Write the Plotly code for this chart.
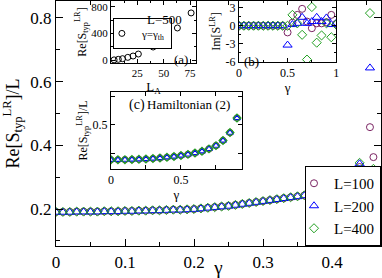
import plotly.graph_objects as go

FONT = "Liberation Serif, Times New Roman, serif"
C100 = "#7b2463"
C200 = "#0000ff"
C400 = "#22a022"

# ---------------- main panel data ----------------
gamma_main = [0.00, 0.01, 0.02, 0.03, 0.04, 0.05, 0.06, 0.07, 0.08, 0.09,
              0.10, 0.11, 0.12, 0.13, 0.14, 0.15, 0.16, 0.17, 0.18, 0.19,
              0.20, 0.21, 0.22, 0.23, 0.24, 0.25, 0.26, 0.27, 0.28, 0.29,
              0.30, 0.31, 0.32, 0.33, 0.34, 0.35, 0.36, 0.37, 0.38, 0.39,
              0.40, 0.41, 0.42, 0.43, 0.44, 0.455, 0.46]
re_L100 = [0.191, 0.191, 0.191, 0.192, 0.192, 0.192, 0.192, 0.193, 0.193, 0.193,
           0.194, 0.194, 0.195, 0.195, 0.196, 0.196, 0.197, 0.198, 0.198, 0.199,
           0.200, 0.202, 0.204, 0.206, 0.208, 0.210, 0.213, 0.216, 0.219, 0.222,
           0.225, 0.228, 0.231, 0.234, 0.237, 0.240, 0.243, 0.246, 0.250, 0.254,
           0.261, 0.272, 0.287, 0.306, 0.332, 0.457, 0.363]
re_L200 = [0.190, 0.190, 0.190, 0.191, 0.191, 0.191, 0.191, 0.192, 0.192, 0.192,
           0.193, 0.193, 0.194, 0.194, 0.195, 0.195, 0.196, 0.197, 0.197, 0.198,
           0.199, 0.201, 0.203, 0.205, 0.207, 0.209, 0.212, 0.215, 0.218, 0.221,
           0.224, 0.227, 0.230, 0.233, 0.236, 0.239, 0.242, 0.246, 0.250, 0.255,
           0.262, 0.274, 0.289, 0.310, 0.342, 0.643, 0.316]
re_L400 = [0.191, 0.191, 0.191, 0.192, 0.192, 0.192, 0.192, 0.193, 0.193, 0.193,
           0.194, 0.194, 0.195, 0.195, 0.196, 0.196, 0.197, 0.198, 0.198, 0.199,
           0.200, 0.202, 0.204, 0.206, 0.208, 0.210, 0.213, 0.216, 0.219, 0.222,
           0.225, 0.228, 0.231, 0.234, 0.237, 0.240, 0.243, 0.247, 0.251, 0.256,
           0.263, 0.275, 0.290, 0.311, 0.345, 0.815, 0.326]

# ---------------- inset (a) data ----------------
LA_a = [3, 7, 11, 16, 21, 26, 40, 50, 63, 76]
reS_a = [2, 10, 20, 40, 60, 90, 196, 330, 483, 710]

# ---------------- inset (b) data ----------------
gamma_b = [0.00, 0.05, 0.10, 0.15, 0.20, 0.25, 0.30, 0.35, 0.40, 0.45,
           0.50, 0.55, 0.60, 0.65, 0.70, 0.75, 0.80, 0.85, 0.90, 0.95, 1.00]
im_L100 = [0, 0, 0, 0, 0, 0, 0, 0, 0, 0,
           -1.1, 0.5, 1.8, 2.8, 0.7, -0.4, 0.4, 0.4, 0.6, 1.8, 0.3]
im_L200 = [0, 0, 0, 0, 0, 0, 0, 0, 0, 0,
           -3.2, 0.2, 0.4, 1.4, 0.4, 0.7, 1.4, 0.7, 1.3, 0.2, 0.4]
im_L400 = [0, 0, 0, 0, 0, 0, 0, 0, 0, 0,
           0.0, 1.8, 0.4, -1.5, -5.6, 3.1, -2.8, -1.6, 0.4, -1.9, 0.2]

# ---------------- inset (c) data ----------------
gamma_c = [0.00, 0.05, 0.10, 0.15, 0.20, 0.25, 0.30, 0.35, 0.40, 0.45,
           0.50, 0.55, 0.60, 0.65, 0.70, 0.75, 0.80, 0.85, 0.90]
h2_L100 = [0.190, 0.190, 0.191, 0.192, 0.194, 0.197, 0.201, 0.206, 0.212, 0.219,
           0.228, 0.238, 0.250, 0.266, 0.287, 0.316, 0.362, 0.432, 0.562]
h2_L200 = [0.189, 0.189, 0.190, 0.191, 0.193, 0.196, 0.200, 0.205, 0.211, 0.218,
           0.227, 0.237, 0.249, 0.265, 0.286, 0.315, 0.361, 0.431, 0.561]
h2_L400 = [0.190, 0.190, 0.191, 0.192, 0.194, 0.197, 0.201, 0.206, 0.212, 0.219,
           0.228, 0.238, 0.250, 0.266, 0.287, 0.316, 0.362, 0.432, 0.562]

labels = ["L=100", "L=200", "L=400"]
colors = [C100, C200, C400]
symbols = ["circle-open", "triangle-up-open", "diamond-open"]
sizes_main = [7, 8, 7]

fig = go.Figure()

for lab, col, sym, sz, ys in zip(labels, colors, symbols, sizes_main,
                                 [re_L100, re_L200, re_L400]):
    fig.add_trace(go.Scatter(x=gamma_main, y=ys, mode="markers", name=lab,
                             marker=dict(symbol=sym, size=sz, color=col,
                                         line=dict(width=1, color=col)),
                             xaxis="x", yaxis="y", legend="legend"))

fig.add_trace(go.Scatter(x=LA_a, y=reS_a, mode="markers",
                         name="γ=γ<sub>th</sub>",
                         marker=dict(symbol="circle-open", size=6, color="black",
                                     line=dict(width=1, color="black")),
                         xaxis="x2", yaxis="y2", legend="legend2"))

for col, sym, sz, ys in zip(colors, symbols, [7, 8, 7], [im_L100, im_L200, im_L400]):
    fig.add_trace(go.Scatter(x=gamma_b, y=ys, mode="markers", showlegend=False,
                             marker=dict(symbol=sym, size=sz, color=col,
                                         line=dict(width=1, color=col)),
                             xaxis="x3", yaxis="y3"))

for col, sym, sz, ys in zip(colors, symbols, [6, 6, 6], [h2_L100, h2_L200, h2_L400]):
    fig.add_trace(go.Scatter(x=gamma_c, y=ys, mode="markers", showlegend=False,
                             marker=dict(symbol=sym, size=sz, color=col,
                                         line=dict(width=1.2, color=col)),
                             xaxis="x4", yaxis="y4"))


def ax(**kw):
    base = dict(showline=True, linecolor="black", linewidth=1, mirror="allticks",
                ticks="inside", tickcolor="black", showgrid=False, zeroline=False,
                automargin=False,
                tickfont=dict(family=FONT, color="black"))
    base.update(kw)
    return base


ylab = "Re[S<sub>typ</sub><sup>LR</sup>]"

fig.update_layout(
    width=382, height=278,
    margin=dict(l=56, r=1, t=1, b=32),
    paper_bgcolor="white", plot_bgcolor="white",
    font=dict(family=FONT, color="black"),
    xaxis=ax(domain=[0, 1], range=[0, 0.471], anchor="y",
             tickvals=[0, 0.1, 0.2, 0.3, 0.4], ticklen=7, linewidth=1.3,
             tickfont=dict(family=FONT, size=17, color="black"),
             minor=dict(dtick=0.05, ticklen=4, ticks="inside", tickcolor="black"),
             title=dict(text="γ", font=dict(family=FONT, size=19), standoff=0)),
    yaxis=ax(domain=[0, 1], range=[0.084, 0.853], anchor="x",
             tickvals=[0.2, 0.4, 0.6, 0.8], ticklen=7, linewidth=1.3,
             tickfont=dict(family=FONT, size=17, color="black"),
             minor=dict(dtick=0.1, ticklen=4, ticks="inside", tickcolor="black"),
             title=dict(text=ylab + "/L", font=dict(family=FONT, size=18), standoff=6)),
    xaxis2=ax(domain=[0.169, 0.431], range=[0, 80.7], anchor="y2",
              tickvals=[25, 50, 75], ticklen=4,
              tickfont=dict(family=FONT, size=11, color="black"),
              minor=dict(dtick=12.5, ticklen=2, ticks="inside", tickcolor="black"),
              title=dict(text="L<sub>A</sub>", font=dict(family=FONT, size=13), standoff=0)),
    yaxis2=ax(domain=[0.747, 1.0], range=[-45, 890], anchor="x2",
              tickvals=[0, 400, 800], ticklen=4,
              tickfont=dict(family=FONT, size=11, color="black"),
              minor=dict(dtick=200, ticklen=2, ticks="inside", tickcolor="black"),
              title=dict(text=ylab, font=dict(family=FONT, size=12), standoff=2)),
    xaxis3=ax(domain=[0.563, 0.862], range=[0, 1.0], anchor="y3",
              tickvals=[0, 0.5, 1], ticklen=4,
              tickfont=dict(family=FONT, size=12, color="black"),
              minor=dict(dtick=0.25, ticklen=2, ticks="inside", tickcolor="black"),
              title=dict(text="γ", font=dict(family=FONT, size=13), standoff=0)),
    yaxis3=ax(domain=[0.751, 1.0], range=[-6, 4.1], anchor="x3",
              tickvals=[-6, -3, 0, 3], ticktext=["-6", "-3", "0", "3"], ticklen=4,
              tickfont=dict(family=FONT, size=12, color="black"),
              minor=dict(dtick=1.5, ticklen=2, ticks="inside", tickcolor="black"),
              title=dict(text="Im[S<sup>LR</sup>]", font=dict(family=FONT, size=12), standoff=2)),
    xaxis4=ax(domain=[0.169, 0.572], range=[0, 0.935], anchor="y4",
              tickvals=[0, 0.5], ticklen=4,
              tickfont=dict(family=FONT, size=12, color="black"),
              minor=dict(dtick=0.25, ticklen=4, ticks="inside", tickcolor="black"),
              title=dict(text="γ", font=dict(family=FONT, size=13), standoff=0)),
    yaxis4=ax(domain=[0.314, 0.629], range=[0.107, 0.795], anchor="x4",
              tickvals=[0.5], ticklen=4,
              tickfont=dict(family=FONT, size=12, color="black"),
              minor=dict(dtick=0.25, ticklen=4, ticks="inside", tickcolor="black"),
              title=dict(text=ylab + "/L", font=dict(family=FONT, size=12), standoff=2)),
    legend=dict(x=1, y=0, xanchor="right", yanchor="bottom",
                bordercolor="black", borderwidth=1, bgcolor="white",
                font=dict(family=FONT, size=15, color="black"),
                itemwidth=30, tracegroupgap=0, indentation=-12),
    legend2=dict(x=0.175, y=0.931, xanchor="left", yanchor="top",
                 bordercolor="black", borderwidth=1, bgcolor="white",
                 font=dict(family=FONT, size=11, color="black"),
                 itemwidth=30, indentation=-12),
    annotations=[
        dict(text="L=500", x=0.274, y=0.963, xref="paper", yref="paper",
             showarrow=False, font=dict(family=FONT, size=13)),
        dict(text="(a)", x=0.385, y=0.80, xref="paper", yref="paper",
             showarrow=False, font=dict(family=FONT, size=13)),
        dict(text="(b)", x=0.603, y=0.792, xref="paper", yref="paper",
             showarrow=False, font=dict(family=FONT, size=13)),
        dict(text="(c)", x=0.218, y=0.576, xref="paper", yref="paper",
             showarrow=False, font=dict(family=FONT, size=14)),
        dict(text="Hamiltonian (2)", x=0.409, y=0.576, xref="paper", yref="paper",
             showarrow=False, font=dict(family=FONT, size=13)),
    ],
)

fig.write_html("out.html",
               config={"displayModeBar": False},
               post_script="document.body.style.margin='0px';"
                           "document.body.style.overflow='hidden';")
